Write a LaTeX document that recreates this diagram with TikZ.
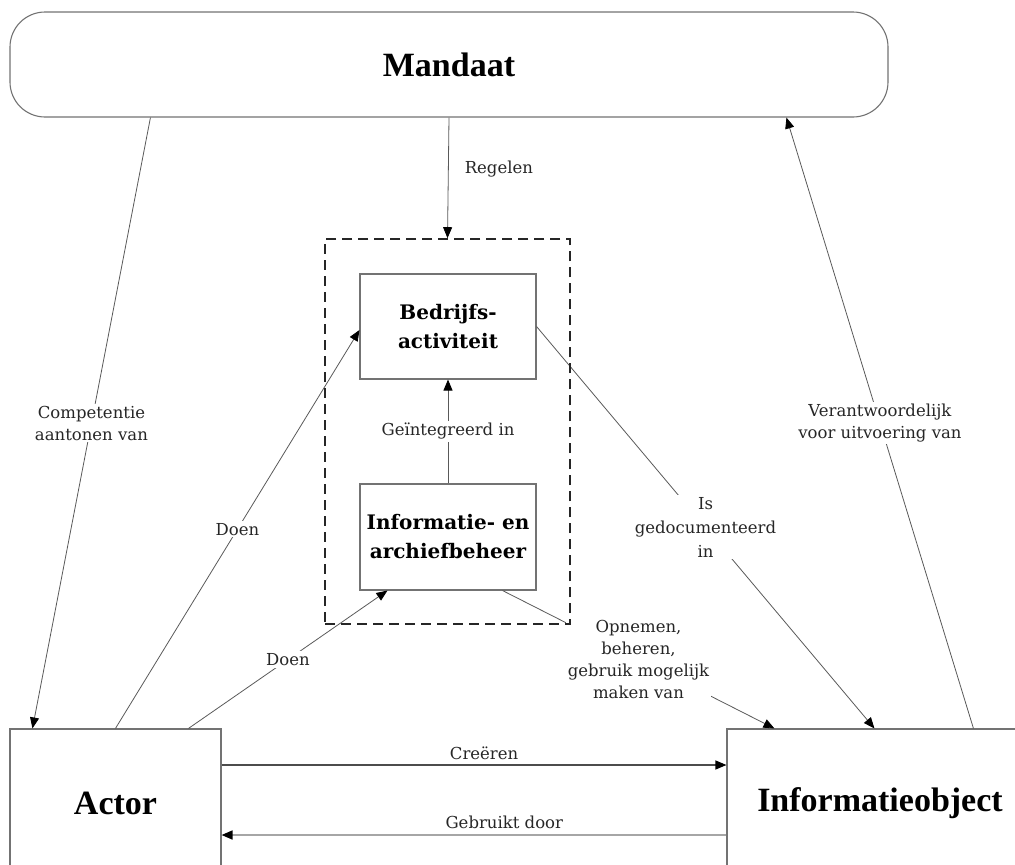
\documentclass[tikz,border=0pt]{standalone}
\usepackage{fontspec}
\setmainfont{DejaVu Serif}
\newfontfamily\timesfont{Liberation Serif}
\usetikzlibrary{arrows.meta}
\begin{document}
\begin{tikzpicture}[x=1pt,y=-1pt,
  box/.style={draw=black!55, line width=1.1pt, fill=white, inner sep=0pt, align=center},
  title/.style={font=\timesfont\bfseries\fontsize{34}{40}\selectfont},
  inner/.style={box, font=\bfseries\fontsize{20}{29}\selectfont, minimum width=176pt},
  dashbox/.style={draw=black!85, line width=1.6pt, dash pattern=on 10pt off 6pt, inner sep=0pt, minimum width=245pt, minimum height=385pt},
  tip/.style={-{Triangle[length=11pt,width=9pt,color=black]}},
  conn/.style={draw=black!65, line width=0.8pt, tip},
  lab/.style={fill=white, inner sep=2pt, align=center, text=black!85, font=\fontsize{16.5}{22}\selectfont},
  plain/.style={inner sep=2pt, align=center, text=black!85, font=\fontsize{16.5}{22}\selectfont}
]
\useasboundingbox (0,0) rectangle (1015,865);
\clip (0,0) rectangle (1015,865);

% nodes
\node[box, title, rounded corners=35pt, minimum width=878pt, minimum height=105pt] (mandaat) at (449,64.5) {Mandaat};
\node[box, title, minimum width=211pt, minimum height=148pt] (actor) at (115.5,803) {Actor};
\node[box, title, minimum width=306pt, minimum height=148pt] (io) at (880,803) {Informatieobject};
\node[inner, minimum height=105pt] (ba) at (448,326.5) {Bedrijfs-\\activiteit};
\node[inner, minimum height=106pt] (ia) at (448,537) {Informatie- en\\archiefbeheer};
\node[dashbox] (dash) at (447.5,431.5) {};

% connectors
\draw[conn] (mandaat.south) -- node[plain, pos=0.43, right=14pt]{Regelen} (dash.north);
\draw[conn] ([xshift=141pt]mandaat.south west) -- node[lab]{Competentie\\aantonen van} ([xshift=23pt]actor.north west);
\draw[conn] ([xshift=247pt]io.north west) -- node[lab]{Verantwoordelijk\\voor uitvoering van} ([xshift=777pt]mandaat.south west);
\draw[conn] (ia.north) -- node[lab]{Geïntegreerd in} (ba.south);
\draw[conn] ([xshift=106pt]actor.north west) -- node[lab]{Doen} ([yshift=-3.5pt]ba.west);
\draw[conn] ([xshift=179pt]actor.north west) -- node[lab]{Doen} ([xshift=28pt]ia.south west);
\draw[conn] (ba.east) -- node[lab, font=\fontsize{16.5}{24}\selectfont]{Is\\gedocumenteerd\\in} ([xshift=148pt]io.north west);
\draw[conn] ([xshift=-34pt]ia.south east) -- node[lab]{Opnemen,\\beheren,\\gebruik mogelijk\\maken van} ([xshift=48pt]io.north west);
\draw[conn, draw=black!70, line width=1.2pt] ([yshift=38pt]actor.east) -- node[plain, above=3pt, pos=0.52]{Creëren} ([yshift=38pt]io.west);
\draw[conn, draw=black!35, line width=1.6pt] ([yshift=-32pt]io.west) -- node[plain, above=3pt, pos=0.44]{Gebruikt door} ([yshift=-32pt]actor.east);

% dashed frame on top
\node[dashbox] at (447.5,431.5) {};
\end{tikzpicture}
\end{document}
